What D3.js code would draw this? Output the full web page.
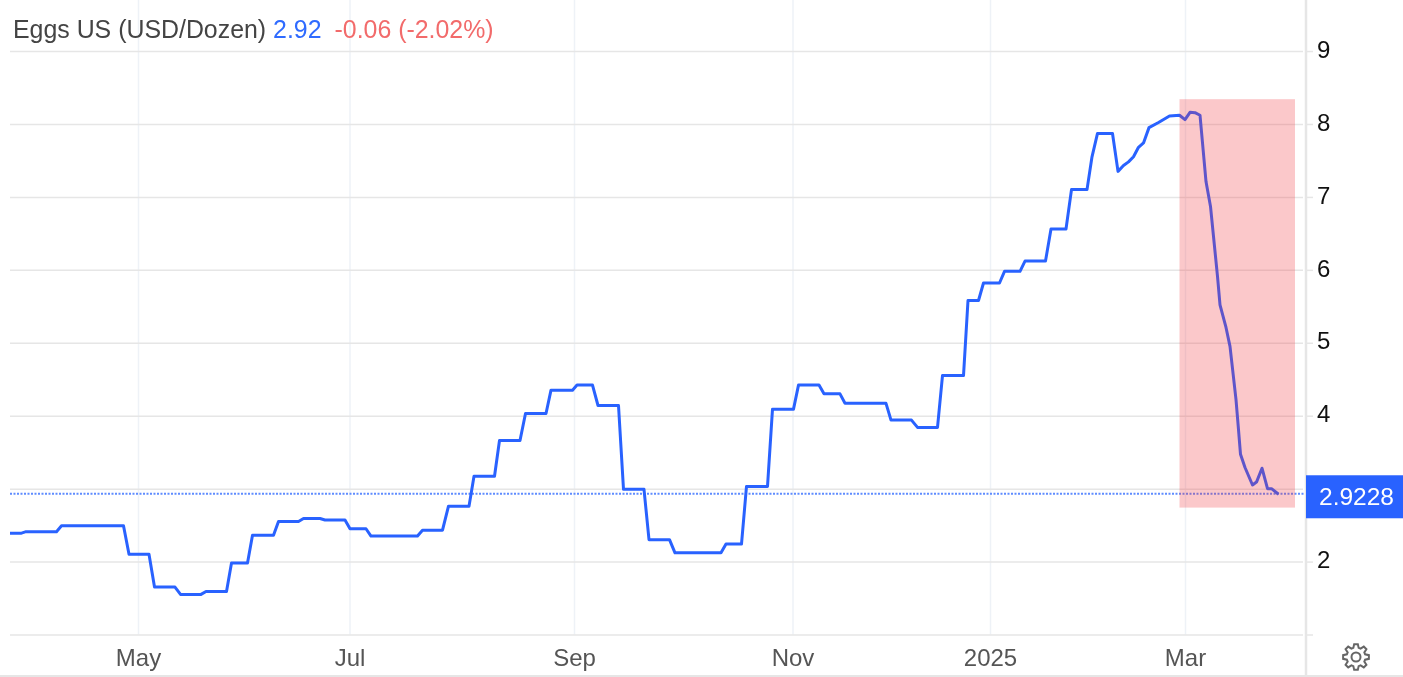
<!DOCTYPE html>
<html>
<head>
<meta charset="utf-8">
<title>Eggs US</title>
<script src="https://cdn.jsdelivr.net/npm/d3@7"></script>
<style>
  html, body { margin: 0; padding: 0; background: #fff; overflow: hidden; }
  svg { display: block; font-family: "Liberation Sans", Arial, sans-serif; filter: blur(0.45px); }
</style>
</head>
<body>
<div id="chart"></div>
<script>
const width = 1403;
const height = 677;

// Trading sessions counted from the left edge of the chart
const sessions = [
    0, 2.3, 3.2, 9.3, 10.3, 22.7, 23.8, 27.8, 28.9, 33, 34.1, 38.2, 39.2, 43.3, 44.3, 47.5,
    48.5, 52.7, 53.7, 57.7, 58.7, 62, 63, 67, 68, 71.2, 72.2, 81.5, 82.5, 86.5, 87.7, 91.8,
    92.8, 96.9, 97.9, 102, 103.1, 107.2, 108.2, 112.5, 113.4, 116.5, 117.6, 121.7, 122.7, 126.8,
    127.8, 131.9, 133, 142.2, 143.2, 146.3, 147.3, 151.5, 152.5, 156.7, 157.7, 161.8, 162.8, 166,
    167, 175.2, 176.2, 180.3, 181.5, 185.5, 186.5, 190.7, 191.6, 193.7, 194.7, 197.9, 198.9, 202,
    203, 207.1, 208.2, 211.2, 212.3, 215.4, 216.4, 217.5, 220.5, 221.6, 222.7, 223.7, 224.7, 225.7,
    226.7, 227.8, 229.7, 231.9, 233.9, 235, 236, 237, 238, 239.2, 240.1, 241.5, 242, 243.2,
    244, 245.2, 245.7, 246.1, 247, 248.5, 249.3, 250.4, 251.5, 252.3, 253.7
];

// Price in USD per dozen at each session
const prices = [
    2.39, 2.39, 2.41, 2.41, 2.49, 2.49, 2.10, 2.10, 1.65, 1.65, 1.55, 1.55, 1.59, 1.59, 1.98, 1.98,
    2.36, 2.36, 2.55, 2.55, 2.59, 2.59, 2.57, 2.57, 2.45, 2.45, 2.35, 2.35, 2.43, 2.43, 2.76, 2.76,
    3.17, 3.17, 3.66, 3.66, 4.03, 4.03, 4.35, 4.35, 4.42, 4.42, 4.14, 4.14, 2.99, 2.99,
    2.30, 2.30, 2.12, 2.12, 2.24, 2.24, 3.03, 3.03, 4.09, 4.09, 4.42, 4.42, 4.30, 4.30,
    4.17, 4.17, 3.94, 3.94, 3.84, 3.84, 4.55, 4.55, 5.58, 5.58, 5.82, 5.82, 5.98, 5.98,
    6.12, 6.12, 6.56, 6.56, 7.10, 7.10, 7.55, 7.87, 7.87, 7.35, 7.43, 7.48, 7.55, 7.68,
    7.74, 7.95, 8.02, 8.11, 8.12, 8.06, 8.16, 8.155, 8.12, 7.21, 6.87, 5.91, 5.52, 5.21,
    4.95, 4.22, 3.81, 3.47, 3.29, 3.05, 3.09, 3.28, 3.00, 3.00, 2.9228
];

const monthSessions = [25.6, 67.9, 112.8, 156.5, 196, 235];
const monthLabels = ["May", "Jul", "Sep", "Nov", "2025", "Mar"];
const priceTicks = [1, 2, 3, 4, 5, 6, 7, 8, 9];
const priceLabels = [2, 4, 5, 6, 7, 8, 9];

const lastPrice = 2.9228;
const highlightSessions = [233.9, 257];
const highlightPrices = [2.74, 8.34];

const svg = d3.select("#chart").append("svg")
    .attr("width", width)
    .attr("height", height);

// Ordinal-style x axis, one unit per trading session
const x = d3.scaleLinear().domain([0, 258]).range([10, 1300]);
const y = d3.scaleLinear().domain([1, 9.7]).range([634.5, 0]);

const axisX = 1306;
const plotBottom = y(1);

// Vertical grid
svg.append("g")
    .attr("transform", `translate(0,${plotBottom})`)
    .call(d3.axisBottom(x).tickValues(monthSessions).tickSize(-plotBottom).tickFormat(""))
    .call(g => g.select(".domain").remove())
    .call(g => g.selectAll("line").attr("stroke", "#eef2f7").attr("stroke-width", 1.5));

// Horizontal grid
svg.append("g")
    .attr("transform", "translate(1303,0)")
    .call(d3.axisLeft(y).tickValues(priceTicks).tickSize(1293).tickFormat(""))
    .call(g => g.select(".domain").remove())
    .call(g => g.selectAll("line").attr("stroke", "#e6e6e6").attr("stroke-width", 1.5));

// Last value dotted line
svg.append("line")
    .attr("x1", x(0)).attr("x2", axisX)
    .attr("y1", y(lastPrice) - 0.5).attr("y2", y(lastPrice) - 0.5)
    .attr("stroke", "#5f8cff")
    .attr("stroke-width", 2)
    .attr("stroke-dasharray", "2 1.5");

// Series
const line = d3.line()
    .x((d, i) => x(sessions[i]))
    .y(d => y(d));

svg.append("path")
    .datum(prices)
    .attr("d", line)
    .attr("fill", "none")
    .attr("stroke", "#2962ff")
    .attr("stroke-width", 3)
    .attr("stroke-linejoin", "round");

// Highlight box sits on top of the line
svg.append("rect")
    .attr("x", x(highlightSessions[0]))
    .attr("width", x(highlightSessions[1]) - x(highlightSessions[0]))
    .attr("y", y(highlightPrices[1]))
    .attr("height", y(highlightPrices[0]) - y(highlightPrices[1]))
    .attr("fill", "#f0323c")
    .attr("fill-opacity", 0.27);

// Right axis
svg.append("g")
    .attr("transform", `translate(${axisX},0)`)
    .call(d3.axisRight(y).tickValues(priceTicks).tickSize(7).tickPadding(4)
        .tickFormat(d => priceLabels.includes(d) ? d : ""))
    .call(g => g.select(".domain").remove())
    .call(g => g.selectAll("line").attr("stroke", "#e6e6e6").attr("stroke-width", 1.5))
    .call(g => g.selectAll("text")
        .attr("y", -1.5)
        .attr("font-family", "'Liberation Sans', Arial, sans-serif")
        .attr("font-size", 24)
        .attr("fill", "#111"));

svg.append("line")
    .attr("x1", axisX).attr("x2", axisX)
    .attr("y1", 0).attr("y2", height)
    .attr("stroke", "#e6e6e6")
    .attr("stroke-width", 2.5);

// Bottom axis labels
svg.append("g")
    .attr("transform", `translate(0,${plotBottom})`)
    .call(d3.axisBottom(x).tickValues(monthSessions).tickSize(0).tickPadding(14)
        .tickFormat((d, i) => monthLabels[i]))
    .call(g => g.select(".domain").remove())
    .call(g => g.selectAll("text")
        .attr("font-family", "'Liberation Sans', Arial, sans-serif")
        .attr("font-size", 24)
        .attr("fill", "#555"));

// Bottom border of the widget
svg.append("line")
    .attr("x1", 0).attr("x2", width)
    .attr("y1", 676).attr("y2", 676)
    .attr("stroke", "#e6e6e6")
    .attr("stroke-width", 2);

// Last value tag
svg.append("rect")
    .attr("x", axisX)
    .attr("y", y(lastPrice) - 19)
    .attr("width", width - axisX)
    .attr("height", 43)
    .attr("fill", "#2962ff");

svg.append("text")
    .attr("x", 1356.5)
    .attr("y", y(lastPrice) + 2)
    .attr("dy", "0.35em")
    .attr("text-anchor", "middle")
    .attr("font-size", 24.5)
    .attr("fill", "#fff")
    .text(lastPrice);

// Title line
const title = svg.append("text")
    .attr("x", 13)
    .attr("y", 38)
    .attr("font-size", 24.9);

title.append("tspan").attr("fill", "#444").text("Eggs US (USD/Dozen) ");
title.append("tspan").attr("fill", "#2f6bff").text("2.92");
title.append("tspan").attr("fill", "#f26b6b").attr("dx", 13).text("-0.06 (-2.02%)");

// Settings gear
const teeth = 8;
const gearPoints = [];
for (let i = 0; i < teeth; i++) {
    const a = (i / teeth) * 2 * Math.PI;
    const step = (2 * Math.PI) / teeth;
    gearPoints.push([a - step * 0.36, 9.5], [a - step * 0.18, 13], [a + step * 0.18, 13], [a + step * 0.36, 9.5]);
}
const gear = svg.append("g")
    .attr("transform", "translate(1356,657)")
    .attr("fill", "none")
    .attr("stroke", "#666")
    .attr("stroke-width", 2);

gear.append("path")
    .attr("d", d3.lineRadial().curve(d3.curveLinearClosed)(gearPoints));

gear.append("circle").attr("r", 4.5);
</script>
</body>
</html>
